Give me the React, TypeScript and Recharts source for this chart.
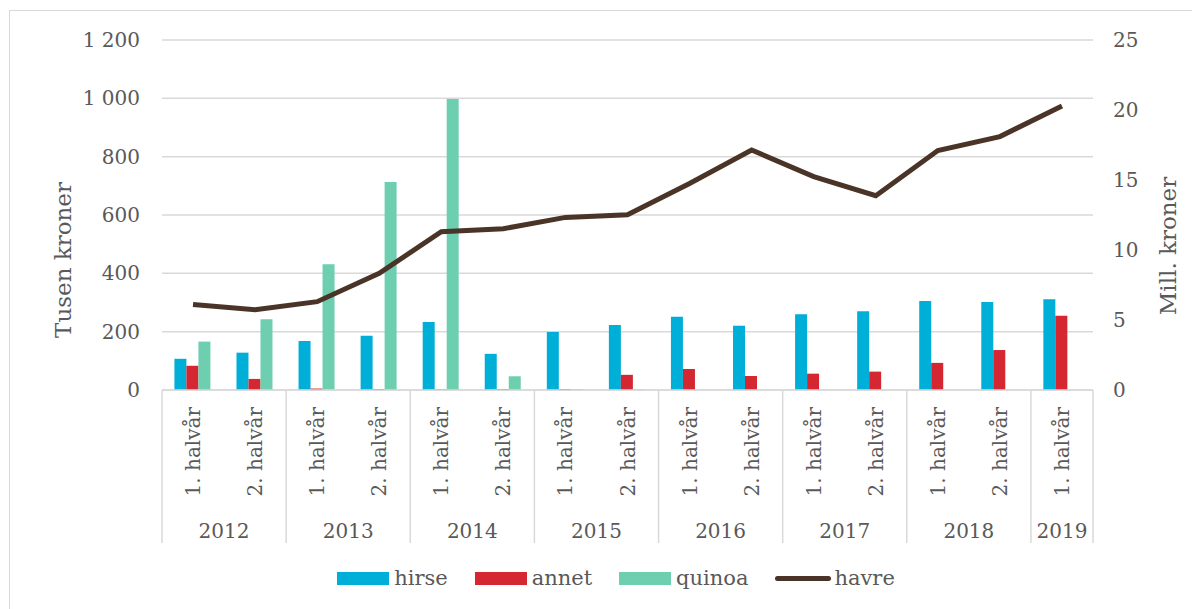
import React from "react";
import {
  ComposedChart,
  Bar,
  Line,
  XAxis,
  YAxis,
  CartesianGrid,
  Legend,
} from "recharts";

const halves = [
  "1. halvår", "2. halvår", "1. halvår", "2. halvår", "1. halvår", "2. halvår",
  "1. halvår", "2. halvår", "1. halvår", "2. halvår", "1. halvår", "2. halvår",
  "1. halvår", "2. halvår", "1. halvår",
];
const years = [
  "2012", "2012", "2013", "2013", "2014", "2014", "2015", "2015",
  "2016", "2016", "2017", "2017", "2018", "2018", "2019",
];
const hirse = [107, 128, 168, 186, 233, 124, 199, 223, 251, 220, 260, 270, 305, 302, 311];
const annet = [83, 38, 5, 3, 2, 3, 3, 52, 72, 48, 56, 63, 93, 137, 255];
const quinoa = [166, 243, 431, 713, 998, 47, 3, 2, 0, 0, 0, 0, 0, 0, 0];
const havre = [6.1, 5.74, 6.31, 8.33, 11.31, 11.52, 12.33, 12.52, 14.75, 17.14, 15.24, 13.88, 17.1, 18.1, 20.29];

const leftTicks = [0, 200, 400, 600, 800, 1000, 1200];
const rightTicks = [0, 5, 10, 15, 20, 25];

const seriesNames = ["hirse", "annet", "quinoa", "havre"];
const COLORS = {
  hirse: "#00AFD8",
  annet: "#D42731",
  quinoa: "#6DCEB0",
  havre: "#4A3427",
};

const data = halves.map((h, i) => ({
  key: `${years[i]}-${i}`,
  half: h,
  year: years[i],
  hirse: hirse[i],
  annet: annet[i],
  quinoa: quinoa[i],
  havre: havre[i],
}));

const FONT = "'DejaVu Serif', serif";
const TXT = "#595959";
const GRID = "#D9D9D9";

const fmtThousands = (v: number) => {
  const s = String(v);
  return s.length > 3 ? s.slice(0, s.length - 3) + " " + s.slice(s.length - 3) : s;
};

const XTick = (props: any) => {
  const { x, y, payload, width } = props;
  const index = payload.index ?? props.index;
  const n = data.length;
  const bw = width / n;
  const yr = years[index];
  const isFirst = index === 0 || years[index - 1] !== yr;
  const isLast = index === n - 1;
  let groupSize = 0;
  for (let k = index; k < n && years[k] === yr; k++) groupSize++;
  return (
    <g>
      <text
        x={x}
        y={y + 17}
        transform={`rotate(-90, ${x}, ${y + 17})`}
        textAnchor="end"
        dominantBaseline="central"
        fill={TXT}
        fontSize={20}
        fontFamily={FONT}
      >
        {payload.value}
      </text>
      {isFirst && (
        <>
          <line x1={x - bw / 2} x2={x - bw / 2} y1={y} y2={y + 153} stroke={GRID} strokeWidth={1.5} />
          <text
            x={x + ((groupSize - 1) * bw) / 2}
            y={y + 141}
            textAnchor="middle"
            dominantBaseline="central"
            fill={TXT}
            fontSize={20}
            fontFamily={FONT}
          >
            {yr}
          </text>
        </>
      )}
      {isLast && (
        <line x1={x + bw / 2} x2={x + bw / 2} y1={y} y2={y + 153} stroke={GRID} strokeWidth={1.5} />
      )}
    </g>
  );
};

const LegendContent = () => (
  <div
    style={{
      height: 66,
      boxSizing: "border-box",
      paddingTop: 23,
      paddingLeft: 22,
      display: "flex",
      justifyContent: "center",
      alignItems: "flex-start",
      fontFamily: FONT,
      fontSize: 21,
      color: TXT,
    }}
  >
    {seriesNames.map((name, i) => (
      <div
        key={name}
        style={{
          display: "flex",
          alignItems: "center",
          height: 24,
          marginRight: i < seriesNames.length - 1 ? 27 : 0,
        }}
      >
        {name === "havre" ? (
          <div
            style={{
              width: 56,
              height: 5,
              borderRadius: 3,
              background: (COLORS as any)[name],
              marginRight: 3,
            }}
          />
        ) : (
          <div
            style={{
              width: 52,
              height: 13,
              background: (COLORS as any)[name],
              marginRight: 5,
            }}
          />
        )}
        <span style={{ lineHeight: "24px" }}>{name}</span>
      </div>
    ))}
  </div>
);

export default function App() {
  return (
    <div
      style={{
        marginLeft: 1,
        marginTop: 2,
        borderLeft: `1px solid ${GRID}`,
        borderTop: `1px solid ${GRID}`,
        width: 1190,
        height: 598,
      }}
    >
      <ComposedChart
        width={1190}
        height={598}
        data={data}
        margin={{ top: 29, right: 0, left: 0, bottom: 0 }}
        barCategoryGap="20%"
        barGap={0}
      >
        <CartesianGrid vertical={false} stroke={GRID} strokeWidth={1.5} yAxisId="left" />
        <XAxis
          dataKey="half"
          interval={0}
          height={153}
          tickSize={0}
          tickMargin={0}
          tickLine={false}
          axisLine={{ stroke: GRID, strokeWidth: 1.5 }}
          tick={<XTick />}
        />
        <YAxis
          yAxisId="left"
          width={152}
          domain={[0, 1200]}
          ticks={leftTicks}
          tickFormatter={fmtThousands}
          axisLine={false}
          tickLine={false}
          tickSize={0}
          tickMargin={22}
          tick={{ fill: TXT, fontSize: 20, fontFamily: FONT }}
          label={(p: any) => {
            const vb = p.viewBox;
            const cx = vb.x + 53;
            const cy = vb.y + vb.height / 2 + 45;
            return (
              <text
                x={cx}
                y={cy}
                transform={`rotate(-90, ${cx}, ${cy})`}
                textAnchor="middle"
                dominantBaseline="central"
                fill={TXT}
                fontSize={23}
                fontFamily={FONT}
              >
                Tusen kroner
              </text>
            );
          }}
        />
        <YAxis
          yAxisId="right"
          orientation="right"
          width={107}
          domain={[0, 25]}
          ticks={rightTicks}
          axisLine={false}
          tickLine={false}
          tickSize={0}
          tickMargin={20}
          tick={{ fill: TXT, fontSize: 20, fontFamily: FONT }}
          label={(p: any) => {
            const vb = p.viewBox;
            const cx = vb.x + 75;
            const cy = vb.y + vb.height / 2 + 31;
            return (
              <text
                x={cx}
                y={cy}
                transform={`rotate(-90, ${cx}, ${cy})`}
                textAnchor="middle"
                dominantBaseline="central"
                fill={TXT}
                fontSize={23}
                fontFamily={FONT}
              >
                Mill. kroner
              </text>
            );
          }}
        />
        <Legend verticalAlign="bottom" content={<LegendContent />} />
        <Bar yAxisId="left" dataKey="hirse" name="hirse" fill={COLORS.hirse} isAnimationActive={false} />
        <Bar yAxisId="left" dataKey="annet" name="annet" fill={COLORS.annet} isAnimationActive={false} />
        <Bar yAxisId="left" dataKey="quinoa" name="quinoa" fill={COLORS.quinoa} isAnimationActive={false} />
        <Line
          yAxisId="right"
          type="linear"
          dataKey="havre"
          name="havre"
          stroke={COLORS.havre}
          strokeWidth={5}
          dot={false}
          activeDot={false}
          isAnimationActive={false}
        />
      </ComposedChart>
    </div>
  );
}
